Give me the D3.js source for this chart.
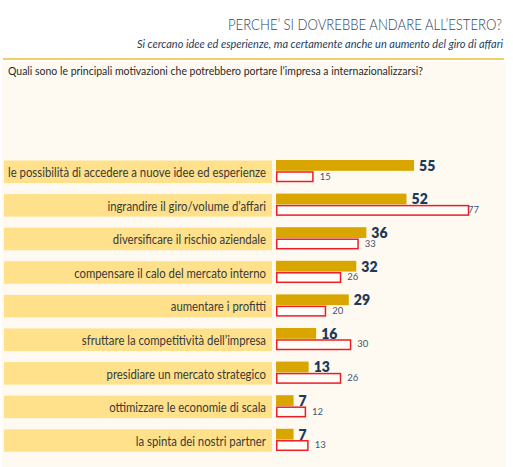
<!DOCTYPE html>
<html><head><meta charset="utf-8">
<script src="https://cdnjs.cloudflare.com/ajax/libs/d3/7.8.5/d3.min.js"></script>
<style>html,body{margin:0;padding:0;background:#fff;}svg{display:block;}</style>
</head><body><svg id="c" width="513" height="467"></svg>
<script>
const categories = [
  "le possibilità di accedere a nuove idee ed esperienze",
  "ingrandire il giro/volume d’affari",
  "diversificare il rischio aziendale",
  "compensare il calo del mercato interno",
  "aumentare i profitti",
  "sfruttare la competitività dell’impresa",
  "presidiare un mercato strategico",
  "ottimizzare le economie di scala",
  "la spinta dei nostri partner"
];
const seriesA = [55, 52, 36, 32, 29, 16, 13, 7, 7];
const seriesB = [15, 77, 33, 26, 20, 30, 26, 12, 13];
const title = "PERCHE’ SI DOVREBBE ANDARE ALL’ESTERO?";
const subtitle = "Si cercano idee ed esperienze, ma certamente anche un aumento del giro di affari";
const question = "Quali sono le principali motivazioni che potrebbero portare l’impresa a internazionalizzarsi?";

const svg = d3.select("#c");
const font = "Lato, 'Open Sans', sans-serif";

// panel
svg.append("rect").attr("x",2).attr("y",62).attr("width",504).attr("height",405).attr("fill","#FEF9F1");
svg.append("line").attr("x1",3).attr("x2",504).attr("y1",59).attr("y2",59).attr("stroke","#EDBF2E").attr("stroke-width",1.5);

svg.append("text").attr("x",502).attr("y",30).attr("text-anchor","end")
  .attr("font-family",font).attr("font-weight",300).attr("font-size",16).attr("fill","#2B4660")
  .attr("textLength",274).attr("lengthAdjust","spacingAndGlyphs").text(title);
svg.append("text").attr("x",503).attr("y",48).attr("text-anchor","end")
  .attr("font-family",font).attr("font-style","italic").attr("font-size",10.5).attr("fill","#1F3D5C")
  .attr("textLength",366).attr("lengthAdjust","spacingAndGlyphs").text(subtitle);
svg.append("text").attr("x",8).attr("y",75).attr("font-family",font).attr("font-size",10.5).attr("fill","#2a2a2a")
  .attr("textLength",415).attr("lengthAdjust","spacingAndGlyphs").text(question);

const y = d3.scaleBand().domain(categories).range([160, 160 + 33.6*8 + 23]).paddingInner(0.315).paddingOuter(0);
const x = d3.scaleLinear().domain([0, 100]).range([276, 527]);

const rows = svg.selectAll("g.row").data(categories).join("g").attr("class","row");

rows.append("rect").attr("x",4).attr("width",268).attr("y",d=>y(d)+0.5).attr("height",22.5).attr("fill","#FEE18A");

const labels = rows.append("text").attr("x",266).attr("y",d=>y(d)+17).attr("text-anchor","end")
  .attr("font-family",font).attr("font-size",12.8).attr("fill","#3a3a3a").text(d=>d);
const w0 = labels.nodes()[0].getComputedTextLength();
const r = 258 / w0;
labels.each(function(){ const w=this.getComputedTextLength(); d3.select(this).attr("textLength", w*r).attr("lengthAdjust","spacingAndGlyphs"); });

rows.append("rect").attr("x",x(0)).attr("y",d=>y(d)).attr("height",10.8)
  .attr("width",(d,i)=>x(seriesA[i])-x(0)).attr("fill","#D9A600");
rows.append("rect").attr("x",x(0)+0.75).attr("y",d=>y(d)+12).attr("height",9.5)
  .attr("width",(d,i)=>x(seriesB[i])-x(0)-1.5).attr("fill","#FFFDF8").attr("stroke","#EE1C25").attr("stroke-width",1.5);

rows.append("text").attr("x",(d,i)=>x(seriesA[i])+5).attr("y",d=>y(d)+10.8)
  .attr("font-family",font).attr("font-weight",800).attr("font-size",14).attr("fill","#1E3A5A").text((d,i)=>seriesA[i]);
rows.append("text").attr("x",(d,i)=>Math.min(x(seriesB[i])+6, 468)).attr("y",d=>y(d)+19.5)
  .attr("font-family",font).attr("font-size",9.5).attr("fill","#3E5670").text((d,i)=>seriesB[i]);
</script></body></html>
